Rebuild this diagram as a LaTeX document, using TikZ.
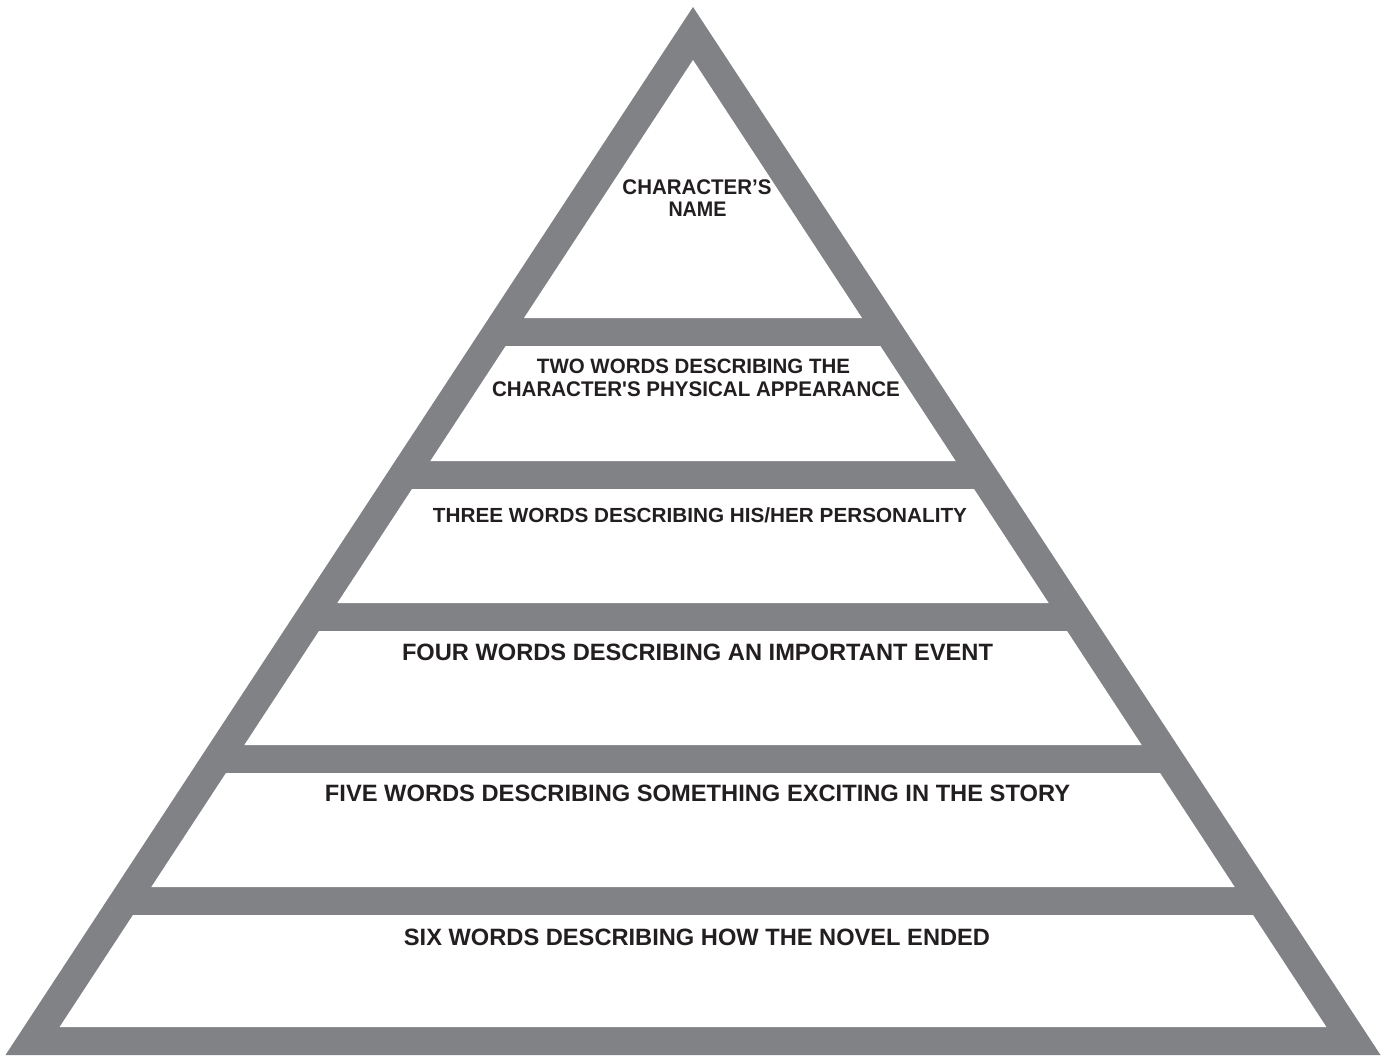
\documentclass[tikz,border=0pt]{standalone}
\usepackage{fontspec}
\setmainfont{Liberation Sans}
\newfontfamily\rawsans{Liberation Sans}[Ligatures=TeXOff]
\definecolor{pyrgray}{RGB}{128,130,133}
\definecolor{txtdark}{RGB}{35,31,32}
\newcommand\captext[3]{\resizebox{#1pt}{#2pt}{\bfseries #3}}
\begin{document}
\begin{tikzpicture}[x=1pt,y=-1pt,
  label/.style={anchor=base,inner sep=0pt,outer sep=0pt,text=txtdark}]
\useasboundingbox (0,0) rectangle (1388,1055);
% outer pyramid
\fill[pyrgray] (693,7) -- (1380.5,1055) -- (5.5,1055) -- cycle;
% top white triangle
\fill[white] (693,60) -- (862,318) -- (524,318) -- cycle;
% white bands
\foreach \a/\b in {346/461,489/603,631/745,773/887,915/1027}{
  \fill[white] ({693-0.655*(\a-60)},\a) -- ({693+0.655*(\a-60)},\a)
    -- ({693+0.655*(\b-60)},\b) -- ({693-0.655*(\b-60)},\b) -- cycle;
}
% labels
\node[label] (char1) at (697,194) {\captext{149}{14.8}{CHARACTER’S}};
\node[label] (char2) at (697.5,216.5) {\captext{58}{14.5}{NAME}};
\node[label] (two1) at (693.5,373.5) {\captext{313}{14.5}{TWO WORDS DESCRIBING THE}};
\node[label] (two2) at (696,396.5) {\captext{408}{14.8}{\rawsans CHARACTER'S PHYSICAL APPEARANCE}};
\node[label] (three) at (700,522) {\captext{534}{14.8}{THREE WORDS DESCRIBING HIS/HER PERSONALITY}};
\node[label] (four) at (697.5,660) {\captext{591}{16.5}{FOUR WORDS DESCRIBING AN IMPORTANT EVENT}};
\node[label] (five) at (697.5,801) {\captext{745}{16.5}{FIVE WORDS DESCRIBING SOMETHING EXCITING IN THE STORY}};
\node[label] (six) at (697,945) {\captext{586}{16.5}{SIX WORDS DESCRIBING HOW THE NOVEL ENDED}};
\end{tikzpicture}
\end{document}
